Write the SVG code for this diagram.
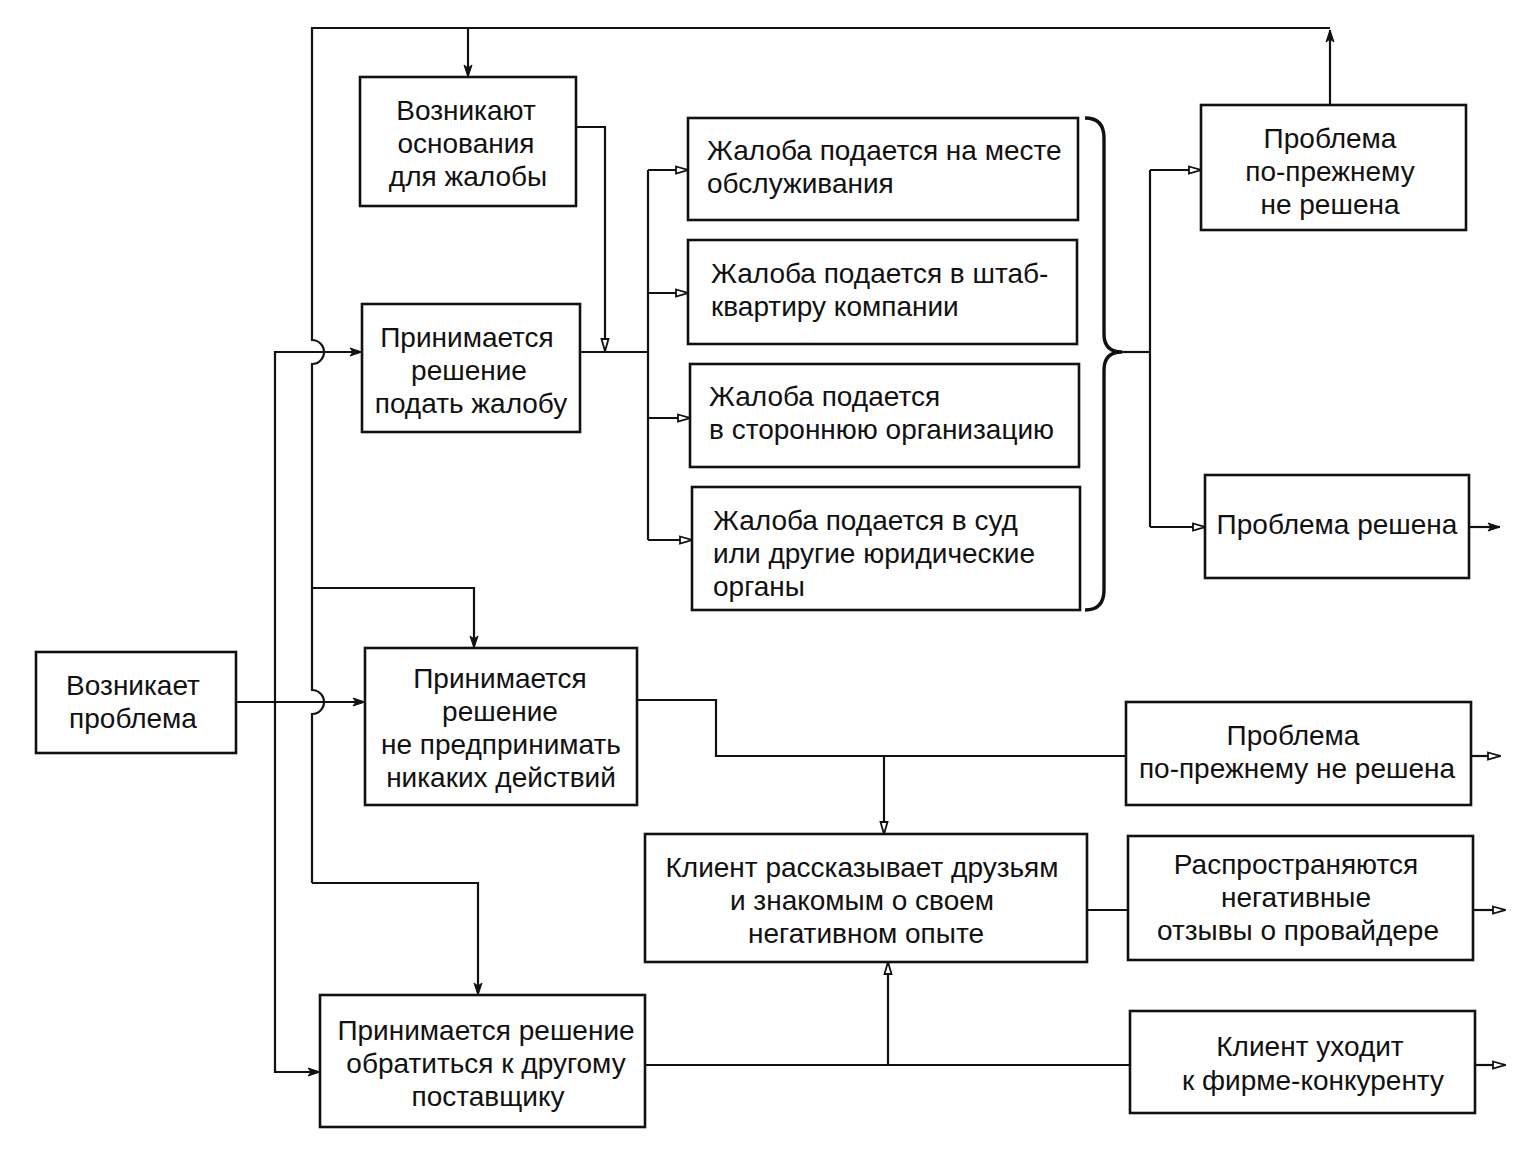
<svg xmlns="http://www.w3.org/2000/svg" width="1527" height="1167" viewBox="0 0 1527 1167">
<defs>
<marker id="af" markerUnits="userSpaceOnUse" markerWidth="14" markerHeight="10" refX="13" refY="5" orient="auto"><path d="M1,1 L13,5 L1,9 L4,5 z" fill="#111" stroke="#111" stroke-width="1"/></marker>
<marker id="ao" markerUnits="userSpaceOnUse" markerWidth="14" markerHeight="10" refX="13" refY="5" orient="auto"><path d="M1,1.5 L13,5 L1,8.5 z" fill="#fff" stroke="#111" stroke-width="1.8"/></marker>
</defs>
<style>
.bx{fill:#fff;stroke:#111;stroke-width:2.6}
.ln{fill:none;stroke:#111;stroke-width:2.2}
.br{fill:none;stroke:#111;stroke-width:3.4}
text{font-family:"Liberation Sans",Arial,sans-serif;font-size:28px;fill:#111}
.c{text-anchor:middle}
</style>
<rect width="1527" height="1167" fill="#fff"/>
<g id="connectors">
<path class="ln" d="M1330,28 H312 V340 A12 12 0 0 1 312 364 V690 A12 12 0 0 1 312 714 V883"/>
<path class="ln" d="M1330,105 V30" marker-end="url(#af)"/>
<path class="ln" d="M468,28 V77" marker-end="url(#af)"/>
<path class="ln" d="M236,702 H365" marker-end="url(#af)"/>
<path class="ln" d="M275,702 V352 H362" marker-end="url(#af)"/>
<path class="ln" d="M275,702 V1072 H320" marker-end="url(#af)"/>
<path class="ln" d="M312,588 H474 V648" marker-end="url(#af)"/>
<path class="ln" d="M312,883 H478 V995" marker-end="url(#af)"/>
<path class="ln" d="M576,127 H605 V351" marker-end="url(#ao)"/>
<path class="ln" d="M580,352 H648"/>
<path class="ln" d="M648,170 V540"/>
<path class="ln" d="M648,170 H688" marker-end="url(#ao)"/>
<path class="ln" d="M648,293 H688" marker-end="url(#ao)"/>
<path class="ln" d="M648,418 H690" marker-end="url(#ao)"/>
<path class="ln" d="M648,540 H692" marker-end="url(#ao)"/>
<path class="br" d="M1085,118 Q1104,118 1104,138 V334 Q1104,352 1122,352 Q1104,352 1104,370 V590 Q1104,610 1085,610"/>
<path class="ln" d="M1122,352 H1150"/>
<path class="ln" d="M1150,170 V527"/>
<path class="ln" d="M1150,170 H1201" marker-end="url(#ao)"/>
<path class="ln" d="M1150,527 H1205" marker-end="url(#ao)"/>
<path class="ln" d="M1469,527 H1500" marker-end="url(#af)"/>
<path class="ln" d="M637,700 H716 V756 H1126"/>
<path class="ln" d="M884,756 V834" marker-end="url(#ao)"/>
<path class="ln" d="M1087,910 H1128"/>
<path class="ln" d="M645,1065 H1130"/>
<path class="ln" d="M888,1065 V962" marker-end="url(#ao)"/>
<path class="ln" d="M1471,756 H1500" marker-end="url(#ao)"/>
<path class="ln" d="M1473,910 H1505" marker-end="url(#ao)"/>
<path class="ln" d="M1475,1065 H1505" marker-end="url(#ao)"/>
</g>
<g id="n_problem"><rect class="bx" x="36" y="652" width="200" height="101"/><text class="c" x="133" y="695">Возникает</text><text class="c" x="133" y="728">проблема</text></g>
<g id="n_grounds"><rect class="bx" x="360" y="77" width="216" height="129"/><text class="c" x="466" y="120">Возникают</text><text class="c" x="466" y="153">основания</text><text class="c" x="468" y="186">для жалобы</text></g>
<g id="n_complain"><rect class="bx" x="362" y="304" width="218" height="128"/><text class="c" x="467" y="347">Принимается</text><text class="c" x="469" y="380">решение</text><text class="c" x="471" y="413">подать жалобу</text></g>
<g id="n_none"><rect class="bx" x="365" y="648" width="272" height="157"/><text class="c" x="500" y="688">Принимается</text><text class="c" x="500" y="721">решение</text><text class="c" x="501" y="754">не предпринимать</text><text class="c" x="501" y="787">никаких действий</text></g>
<g id="n_other"><rect class="bx" x="320" y="995" width="325" height="132"/><text class="c" x="486" y="1040">Принимается решение</text><text class="c" x="486" y="1073">обратиться к другому</text><text class="c" x="488" y="1106">поставщику</text></g>
<g id="n_j1"><rect class="bx" x="688" y="118" width="390" height="102"/><text x="707" y="160">Жалоба подается на месте</text><text x="707" y="193">обслуживания</text></g>
<g id="n_j2"><rect class="bx" x="688" y="240" width="389" height="104"/><text x="711" y="283">Жалоба подается в штаб-</text><text x="711" y="316">квартиру компании</text></g>
<g id="n_j3"><rect class="bx" x="690" y="364" width="389" height="103"/><text x="709" y="406">Жалоба подается</text><text x="709" y="439">в стороннюю организацию</text></g>
<g id="n_j4"><rect class="bx" x="692" y="487" width="388" height="123"/><text x="713" y="530">Жалоба подается в суд</text><text x="713" y="563">или другие юридические</text><text x="713" y="596">органы</text></g>
<g id="n_unsolved1"><rect class="bx" x="1201" y="105" width="265" height="125"/><text class="c" x="1330" y="148">Проблема</text><text class="c" x="1330" y="181">по-прежнему</text><text class="c" x="1330" y="214">не решена</text></g>
<g id="n_solved"><rect class="bx" x="1205" y="475" width="264" height="103"/><text class="c" x="1337" y="534">Проблема решена</text></g>
<g id="n_unsolved2"><rect class="bx" x="1126" y="702" width="345" height="103"/><text class="c" x="1293" y="745">Проблема</text><text class="c" x="1297" y="778">по-прежнему не решена</text></g>
<g id="n_tell"><rect class="bx" x="645" y="834" width="442" height="128"/><text class="c" x="862" y="877">Клиент рассказывает друзьям</text><text class="c" x="862" y="910">и знакомым о своем</text><text class="c" x="866" y="943">негативном опыте</text></g>
<g id="n_negative"><rect class="bx" x="1128" y="836" width="345" height="124"/><text class="c" x="1296" y="874">Распространяются</text><text class="c" x="1296" y="907">негативные</text><text class="c" x="1298" y="940">отзывы о провайдере</text></g>
<g id="n_leaves"><rect class="bx" x="1130" y="1011" width="345" height="102"/><text class="c" x="1310" y="1056">Клиент уходит</text><text class="c" x="1313" y="1090">к фирме-конкуренту</text></g>
</svg>
